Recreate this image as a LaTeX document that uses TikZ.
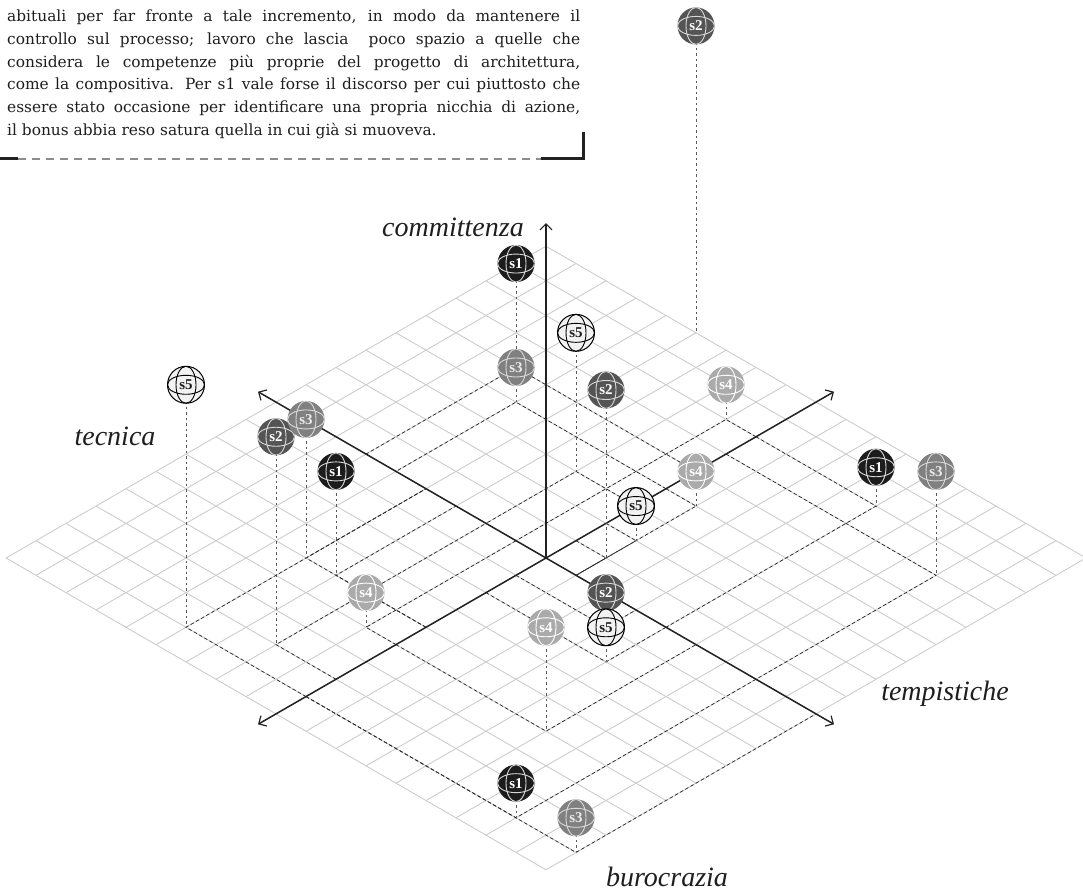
\documentclass[tikz,border=0pt]{standalone}
\usepackage{fontspec}
\setmainfont{Liberation Serif}
\newfontfamily\bodyfont{DejaVu Serif}
\usetikzlibrary{arrows.meta}
\definecolor{gridc}{HTML}{CCCCCC}
\definecolor{axisc}{HTML}{222222}
\definecolor{cone}{HTML}{1C1C1C}
\definecolor{ctwo}{HTML}{545454}
\definecolor{cthree}{HTML}{808080}
\definecolor{cfour}{HTML}{AAAAAA}
\definecolor{cfive}{HTML}{F2F2F2}
\definecolor{lightl}{HTML}{D8D8D8}
\definecolor{txtc}{HTML}{1E1E1E}
\begin{document}
\begin{tikzpicture}[x=1pt,y=-1pt,
  gridline/.style={draw=gridc,line width=0.9pt},
  axisline/.style={draw=axisc,line width=1.5pt},
  tipboth/.style={{Straight Barb[length=6pt,width=12pt,line width=1.2pt]}-{Straight Barb[length=6pt,width=12pt,line width=1.2pt]}},
  tipend/.style={-{Straight Barb[length=6pt,width=12pt,line width=1.2pt]}},
  projline/.style={draw=black!85,line width=0.7pt,dash pattern=on 3.5pt off 2.5pt},
  dropline/.style={draw=black!65,line width=0.9pt,dash pattern=on 2.5pt off 3pt},
  ballbase/.style={circle,minimum size=37pt,inner sep=0pt,
    font=\bfseries\fontsize{15}{15}\selectfont},
  ball/.style 2 args={ballbase,fill=#1,
    path picture={\draw[#2,line width=0.9pt]
      (path picture bounding box.center) ellipse [x radius=18.5pt,y radius=9.5pt]
      (path picture bounding box.center) ellipse [x radius=10pt,y radius=18.5pt];}},
  ballone/.style={ball={cone}{lightl},text=white},
  balltwo/.style={ball={ctwo}{lightl},text=white},
  ballthree/.style={ball={cthree}{lightl},text=white!92!black},
  ballfour/.style={ball={cfour}{white},text=white},
  ballfive/.style={ball={cfive}{black},draw=black,line width=1pt,text=txtc},
  bodyline/.style={anchor=base west,inner sep=0pt,text=txtc,
    font=\bodyfont\fontsize{15.4}{21}\selectfont},
  axlabel/.style={inner sep=0pt,text=txtc,font=\itshape\fontsize{28}{28}\selectfont},
  framedash/.style={draw=black!45,line width=1.5pt,dash pattern=on 8pt off 6pt},
  framethick/.style={draw=axisc,line width=3pt}
]
\useasboundingbox (0,0) rectangle (1083,893);

% ---- text block
\newcommand{\jline}[1]{\hbox to 573pt{\spaceskip=0.318em plus 0.6em minus 0.1em #1}}
\node[bodyline] (tl1) at (7,21.5) {\jline{abituali per far fronte a tale incremento, in modo da mantenere il}};
\node[bodyline] (tl2) at (7,44.3) {\jline{controllo sul processo; lavoro che lascia\ \ poco spazio a quelle che}};
\node[bodyline] (tl3) at (7,67.1) {\jline{considera le competenze più proprie del progetto di architettura,}};
\node[bodyline] (tl4) at (7,89.9) {\jline{come la compositiva. Per s1 vale forse il discorso per cui piuttosto che}};
\node[bodyline] (tl5) at (7,112.7) {\jline{essere stato occasione per identificare una propria nicchia di azione,}};
\node[bodyline] (tl6) at (7,135.5) {il bonus abbia reso satura quella in cui già si muoveva.};

\coordinate (fl0) at (0,159);
\coordinate (fl1) at (18,159);
\coordinate (fr0) at (541,159);
\coordinate (fr1) at (583,159);
\coordinate (fr2) at (583,132);
\draw[framedash] (fl1) -- (fr0);
\draw[framethick] (fl0) -- (fl1);
\draw[framethick,line join=miter] (fr0) -- (fr1) -- (fr2);

% ---- isometric scene
\begin{scope}[shift={(546,558)},x={(30pt,17.3205pt)},y={(-30pt,17.3205pt)},z={(0pt,34.641pt)}]
  \foreach \k in {-9,...,9}{
    \draw[gridline] (\k,-9,0) -- (\k,9,0);
    \draw[gridline] (-9,\k,0) -- (9,\k,0);
  }
  \coordinate (O) at (0,0,0);
  \coordinate (axAm) at (-9.6,0,0);
  \coordinate (axAp) at (9.6,0,0);
  \coordinate (axBm) at (0,-9.6,0);
  \coordinate (axBp) at (0,9.6,0);
  \coordinate (axV) at (0,0,9.67);
  \foreach \n/\pa/\pb/\ph in {
      t1/5/6/3, t3/4/5/1, t5/3/2/4, t2/1/-1/4.85, t4/7/1/1,
      r4/4/-1/1, r5/2/-1/1, r1/7/-4/1.12, r3/6/-7/3,
      d2/-1/-3/1, d5/-2/-4/1, d4/-5/-5/3, d1/-8/-7/1, d3/-8/-9/1,
      l5/-8/4/7, l3/-4/4/4, l2/-7/2/6, l1/-4/3/3, l4/-5/1/1}{
    \coordinate (g\n) at (\pa,\pb,0);
    \coordinate (pa\n) at (\pa,0,0);
    \coordinate (pb\n) at (0,\pb,0);
    \coordinate (c\n) at (\pa,\pb,\ph);
    \draw[projline] (pa\n) -- (g\n) -- (pb\n);
  }
  \coordinate (gr2) at (9,4,0);
  \coordinate (cr2) at (9,4,8.86);
\end{scope}

\draw[axisline,tipboth] (axAm) -- (axAp);
\draw[axisline,tipboth] (axBm) -- (axBp);
\draw[axisline,tipend] (O) -- (axV);

\foreach \n in {t1,t3,t5,t2,t4,r4,r5,r1,r3,r2,d2,d5,d4,d1,d3,l5,l3,l2,l1,l4}{
  \draw[dropline] (c\n) -- (g\n);
}

\foreach \n/\st/\lab in {
    t1/ballone/s1, t3/ballthree/s3, t5/ballfive/s5, t2/balltwo/s2, t4/ballfour/s4,
    r4/ballfour/s4, r5/ballfive/s5, r1/ballone/s1, r3/ballthree/s3, r2/balltwo/s2,
    d2/balltwo/s2, d5/ballfive/s5, d4/ballfour/s4, d1/ballone/s1, d3/ballthree/s3,
    l5/ballfive/s5, l2/balltwo/s2, l3/ballthree/s3, l1/ballone/s1, l4/ballfour/s4}{
  \node[\st] (b\n) at (c\n) {\lab};
}

% ---- axis labels
\node[axlabel] (lcomm) at (453,227) {committenza};
\node[axlabel] (ltec) at (115,436) {tecnica};
\node[axlabel] (ltemp) at (945,694) {tempistiche};
\node[axlabel] (lburo) at (667,877) {burocrazia};
\end{tikzpicture}
\end{document}
